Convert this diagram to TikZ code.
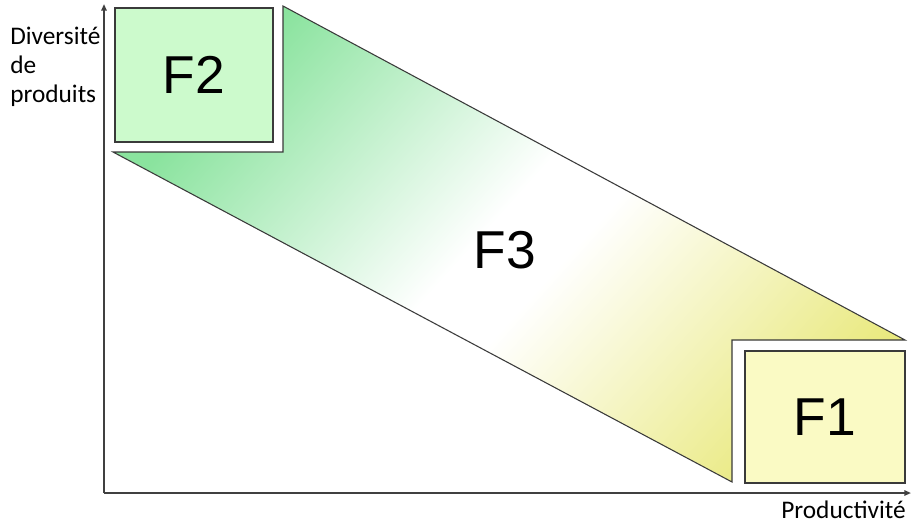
\documentclass[tikz,border=0pt]{standalone}
\usepackage{fontspec}
\setmainfont{Carlito}
\newfontfamily\arialf{Liberation Sans}
\usetikzlibrary{arrows.meta}
\definecolor{axisgray}{HTML}{404040}
\definecolor{edgegray}{HTML}{3A3A3A}
\definecolor{boxgreen}{HTML}{CCFACC}
\definecolor{boxyellow}{HTML}{FAFAC4}
\definecolor{grgreen}{HTML}{8AE39E}
\definecolor{gryellow}{HTML}{E9E97E}
\pgfdeclarehorizontalshading{bandshade}{100bp}{color(0bp)=(grgreen); color(25bp)=(grgreen); color(48bp)=(white); color(54bp)=(white); color(77bp)=(gryellow); color(100bp)=(gryellow)}
\tikzset{
  axisline/.style={draw=axisgray, line width=1.5pt, -{Triangle[length=5pt,width=4pt]}},
  edgeline/.style={draw=edgegray, line width=0.8pt, line join=miter},
  fbox/.style={draw=edgegray, line width=0.8pt, inner sep=0pt, font=\arialf\fontsize{40}{44}\selectfont},
  axlabel/.style={font=\fontsize{19}{21.5}\selectfont, inner sep=0pt, align=left}
}
\begin{document}
\begin{tikzpicture}[x=0.75pt,y=-0.75pt]
\useasboundingbox (0,0) rectangle (912,525);
% band F3
\coordinate (A) at (283,6);
\coordinate (B) at (905,340);
\coordinate (C) at (732,340);
\coordinate (D) at (732,482);
\coordinate (E) at (113,152);
\coordinate (F) at (283,152);
\shade[shading=bandshade, shading angle=-42]
  (A) -- (B) -- (C) -- (D) -- (E) -- (F) -- cycle;
\draw[edgeline] (A) -- (B) -- (C) -- (D) -- (E) -- (F) -- cycle;
\node (f3) at (505,250) {\arialf\fontsize{40}{44}\selectfont F3};
% boxes
\node[fbox, fill=boxgreen, minimum width=118.5pt, minimum height=100.5pt] (f2) at (194,75) {F2};
\node[fbox, fill=boxyellow, minimum width=120pt, minimum height=99pt] (f1) at (825,417) {F1};
% axes
\coordinate (O) at (104,493);
\coordinate (ytop) at (104,4);
\coordinate (xend) at (911,493);
\draw[axisline] (O) -- (ytop);
\draw[axisline] (O) -- (xend);
\node[axlabel, anchor=north west] (ylab) at (10,27) {Diversité\\de\\produits};
\node[axlabel, anchor=base east] (xlab) at (906,518) {Productivité};
\end{tikzpicture}
\end{document}
